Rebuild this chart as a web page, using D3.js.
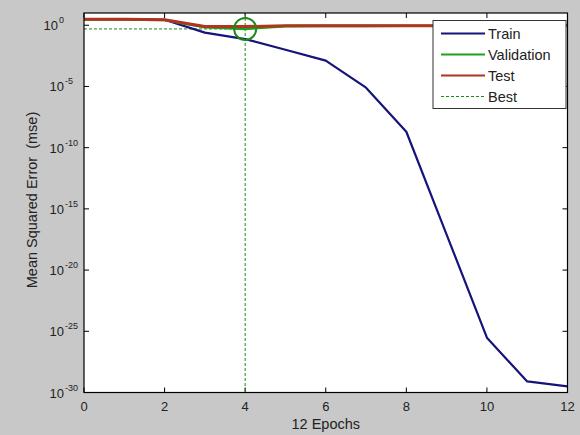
<!DOCTYPE html>
<html><head><meta charset="utf-8">
<script src="https://cdn.jsdelivr.net/npm/d3@7"></script>
<style>
html,body{margin:0;padding:0;background:#c8c8c8;}
svg{display:block;font-family:"Liberation Sans",Arial,sans-serif;}
</style></head>
<body>
<svg id="c" width="580" height="435"></svg>
<script>
const epochs = [0,1,2,3,4,5,6,7,8,9,10,11,12];
const trainMSE = [3.2, 3.2, 2.8, 0.25, 0.074, 1.0e-2, 1.3e-3, 8e-6, 2e-9, 8e-18, 3e-26, 8e-30, 3.2e-30];
const validationMSE = [3.0, 3.0, 2.7, 0.7, 0.5, 0.85, 0.88, 0.88, 0.9, 0.9, 0.92, 0.92, 0.92];
const testMSE = [3.1, 3.1, 2.8, 0.8, 0.78, 0.9, 0.9, 0.9, 0.93, 0.93, 0.95, 0.95, 0.95];
const bestEpoch = 4;
const bestValue = 0.5;
const xTicks = [0,2,4,6,8,10,12];
const yTickExps = [0,-5,-10,-15,-20,-25,-30];
const seriesNames = ["Train","Validation","Test","Best"];
const seriesColors = ["#14147a","#1aa31a","#b0341e","#1a8a1a"];

const svg = d3.select("#c");
const L=84, R=567.5, T=13, B=392.5;
const x = d3.scaleLinear().domain([0,12]).range([L,R]);
const y = d3.scaleLog().domain([1e-30,10]).range([B,T]);

svg.append("rect").attr("x",L).attr("y",T).attr("width",R-L).attr("height",B-T).attr("fill","#fff");

const tk = svg.append("g").attr("stroke","#000").attr("stroke-width",1);
xTicks.forEach(v=>{
  tk.append("line").attr("x1",x(v)).attr("x2",x(v)).attr("y1",B).attr("y2",B-5);
  tk.append("line").attr("x1",x(v)).attr("x2",x(v)).attr("y1",T).attr("y2",T+5);
});
yTickExps.forEach(e=>{
  const yy=y(Math.pow(10,e));
  tk.append("line").attr("x1",L).attr("x2",L+5).attr("y1",yy).attr("y2",yy);
  tk.append("line").attr("x1",R).attr("x2",R-5).attr("y1",yy).attr("y2",yy);
});

const bx=x(bestEpoch), by=y(bestValue);
svg.append("line").attr("x1",bx).attr("x2",bx).attr("y1",T).attr("y2",B)
  .attr("stroke",seriesColors[3]).attr("stroke-width",1).attr("stroke-dasharray","3,2");
svg.append("line").attr("x1",L).attr("x2",bx).attr("y1",by).attr("y2",by)
  .attr("stroke",seriesColors[3]).attr("stroke-width",1).attr("stroke-dasharray","3,2");

const line = d3.line().x((d,i)=>x(epochs[i])).y(d=>y(d));
[[trainMSE,0,2.2],[validationMSE,1,2.6],[testMSE,2,3]].forEach(([data,ci,w])=>{
  svg.append("path").attr("d",line(data)).attr("fill","none")
    .attr("stroke",seriesColors[ci]).attr("stroke-width",w).attr("stroke-linejoin","round");
});
svg.append("circle").attr("cx",bx).attr("cy",by).attr("r",11)
  .attr("fill","none").attr("stroke",seriesColors[3]).attr("stroke-width",2);

svg.append("rect").attr("x",L).attr("y",T).attr("width",R-L).attr("height",B-T)
  .attr("fill","none").attr("stroke","#000").attr("stroke-width",1.2);

const lab = svg.append("g").attr("fill","#222");
xTicks.forEach(v=>{
  lab.append("text").attr("x",x(v)).attr("y",411).attr("text-anchor","middle")
    .attr("font-size",13).text(v);
});
yTickExps.forEach(e=>{
  const yy=y(Math.pow(10,e));
  const endX = e===0 ? 58 : 64;
  lab.append("text").attr("x",endX).attr("y",yy+5).attr("text-anchor","end")
    .attr("font-size",13).text("10");
  lab.append("text").attr("x",endX+1).attr("y",yy-2).attr("text-anchor","start")
    .attr("font-size",9).text(e);
});
svg.append("text").attr("x",(L+R)/2).attr("y",429).attr("text-anchor","middle")
  .attr("font-size",14.5).attr("fill","#222").text("12 Epochs");
svg.append("text").attr("transform","translate(37,200) rotate(-90)").attr("text-anchor","middle")
  .attr("font-size",14.5).attr("fill","#222").attr("xml:space","preserve").text("Mean Squared Error  (mse)");

const lg = svg.append("g");
lg.append("rect").attr("x",433).attr("y",20.5).attr("width",133).attr("height",88)
  .attr("fill","#fff").attr("stroke","#333").attr("stroke-width",1);
const rows=[33.5,54.5,75.5,96.5];
seriesNames.forEach((n,i)=>{
  const l=lg.append("line").attr("x1",441).attr("x2",485).attr("y1",rows[i]).attr("y2",rows[i])
    .attr("stroke",seriesColors[i]).attr("stroke-width",i===3?1:2.2);
  if(i===3) l.attr("stroke-dasharray","3,2");
  lg.append("text").attr("x",488).attr("y",rows[i]+5).attr("font-size",14.5).attr("fill","#222").text(n);
});
</script>
</body></html>
